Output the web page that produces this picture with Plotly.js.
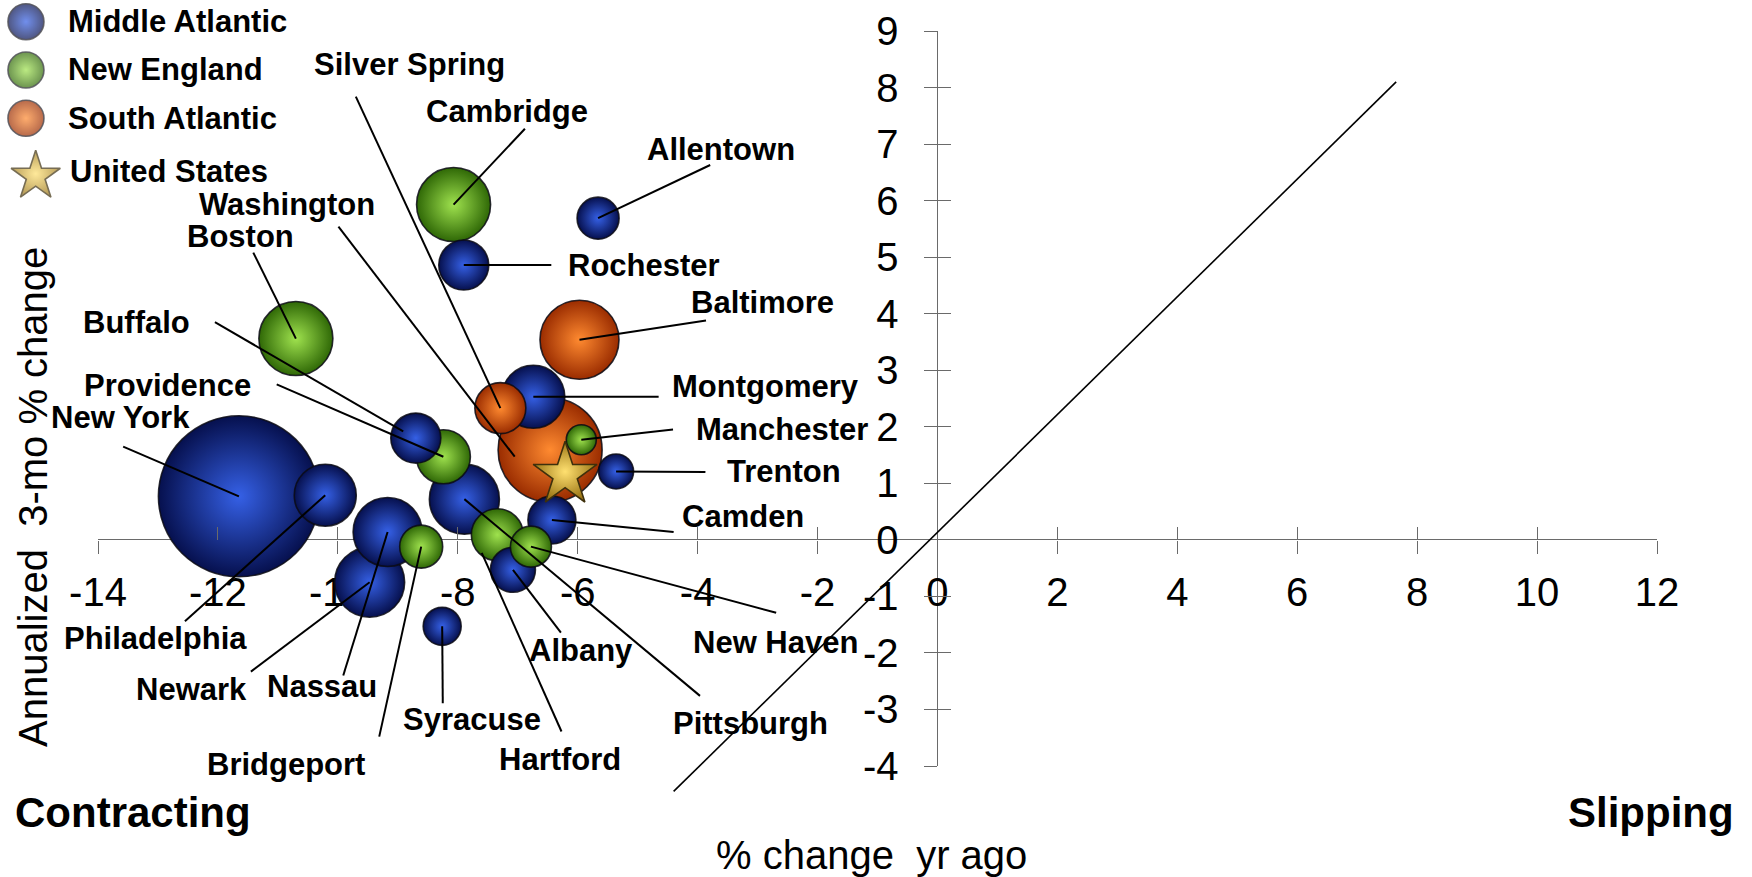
<!DOCTYPE html>
<html>
<head>
<meta charset="utf-8">
<script src="https://cdn.plot.ly/plotly-3.0.1.min.js"></script>
<style>html,body{margin:0;padding:0;background:#fff}#chart{width:1752px;height:877px}</style>
</head>
<body>
<div id="chart"></div>
<script>
// ---------- DATA ----------
const cities = ['New York','Washington','Baltimore','Boston','Cambridge','Pittsburgh','Newark','Nassau',
  'Montgomery','Philadelphia','Providence','Hartford','Silver Spring','Rochester','Buffalo','Camden',
  'Albany','Bridgeport','Allentown','New Haven','Syracuse','Trenton','Manchester'];
const region = ['Middle Atlantic','South Atlantic','South Atlantic','New England','New England','Middle Atlantic',
  'Middle Atlantic','Middle Atlantic','Middle Atlantic','Middle Atlantic','New England','New England',
  'South Atlantic','Middle Atlantic','Middle Atlantic','Middle Atlantic','Middle Atlantic','New England',
  'Middle Atlantic','New England','Middle Atlantic','Middle Atlantic','New England'];
// % change yr ago
const pctYrAgo = [-11.65,-6.46,-5.97,-10.70,-8.07,-7.89,-9.47,-9.17,-6.74,-10.21,-8.24,-7.34,-7.29,-7.90,
  -8.70,-6.43,-7.08,-8.61,-5.66,-6.78,-8.26,-5.36,-5.94];
// Annualized 3-mo % change
const pct3mo = [0.77,1.59,3.54,3.56,5.93,0.72,-0.75,0.14,2.53,0.79,1.47,0.09,2.33,4.86,1.80,0.35,-0.53,
  -0.12,5.69,-0.12,-1.53,1.21,1.77];
// relative bubble size
const bubbleSize = [161,104,79,74,74,70,70,69,63,62,54,52,51,50,50,48,45,43,42,41,38,35,30];
const usName = ['United States'];
const usX = [-6.21];
const usY = [1.15];
const diagX = [-4.4, 7.65];
const diagY = [-4.45, 8.1];
const xTicks = [-14,-12,-10,-8,-6,-4,-2,0,2,4,6,8,10,12];
const yTicks = [-4,-3,-2,-1,0,1,2,3,4,5,6,7,8,9];
const legendNames = ['Middle Atlantic','New England','South Atlantic','United States'];

// ---------- LAYOUT HELPERS (label placement) ----------
const labelPos = {
  'New York':     {lx:-13.63, ly:2.16,  sx:-13.58, sy:1.65},
  'Washington':   {lx:-10.85, ly:5.93,  sx:-9.99,  sy:5.54, ex:-7.05, ey:1.47},
  'Baltimore':    {lx:-2.92,  ly:4.20,  sx:-3.86,  sy:3.88},
  'Boston':       {lx:-11.63, ly:5.37,  sx:-11.41, sy:5.08},
  'Cambridge':    {lx:-7.18,  ly:7.57,  sx:-6.88,  sy:7.27},
  'Pittsburgh':   {lx:-3.12,  ly:-3.24, sx:-3.96,  sy:-2.76},
  'Newark':       {lx:-12.44, ly:-2.64, sx:-11.45, sy:-2.33},
  'Nassau':       {lx:-10.27, ly:-2.59, sx:-9.91,  sy:-2.40},
  'Montgomery':   {lx:-2.87,  ly:2.72,  sx:-4.65,  sy:2.53},
  'Philadelphia': {lx:-13.04, ly:-1.75, sx:-12.55, sy:-1.44},
  'Providence':   {lx:-12.84, ly:2.73,  sx:-11.02, sy:2.75},
  'Hartford':     {lx:-6.29,  ly:-3.89, sx:-6.27,  sy:-3.39, ex:-7.60, ey:-0.23},
  'Silver Spring':{lx:-8.80,  ly:8.41,  sx:-9.70,  sy:7.84},
  'Rochester':    {lx:-4.89,  ly:4.86,  sx:-6.44,  sy:4.86},
  'Buffalo':      {lx:-13.36, ly:3.84,  sx:-12.05, sy:3.85, ex:-8.91, ey:1.92},
  'Camden':       {lx:-3.25,  ly:0.41,  sx:-4.40,  sy:0.14},
  'Albany':       {lx:-5.95,  ly:-1.96, sx:-6.28,  sy:-1.64},
  'Bridgeport':   {lx:-10.87, ly:-3.98, sx:-9.31,  sy:-3.48},
  'Allentown':    {lx:-3.61,  ly:6.91,  sx:-3.79,  sy:6.63},
  'New Haven':    {lx:-2.70,  ly:-1.82, sx:-2.69,  sy:-1.29},
  'Syracuse':     {lx:-7.76,  ly:-3.17, sx:-8.25,  sy:-2.89},
  'Trenton':      {lx:-2.56,  ly:1.21,  sx:-3.87,  sy:1.20},
  'Manchester':   {lx:-2.59,  ly:1.95,  sx:-4.41,  sy:1.95}
};

const palette = {
  'Middle Atlantic': {edge:'#06104e', center:'#3560e6'},
  'New England':     {edge:'#2f6806', center:'#9fe24e'},
  'South Atlantic':  {edge:'#9a2c00', center:'#ff8a30'},
  'United States':   {edge:'#9a7414', center:'#ffe070'}
};
const FONT = 'Liberation Sans, Arial, Helvetica, sans-serif';
const AXC = '#6a6a6a';

// leader lines
const lx = [], ly = [];
cities.forEach((c, i) => {
  const p = labelPos[c];
  lx.push(p.sx, p.ex !== undefined ? p.ex : pctYrAgo[i], null);
  ly.push(p.sy, p.ey !== undefined ? p.ey : pct3mo[i], null);
});

const traces = [
  { type:'scatter', mode:'markers', x:pctYrAgo, y:pct3mo, text:cities, hoverinfo:'text', cliponaxis:false,
    xaxis:'x', yaxis:'y',
    marker:{ size:bubbleSize, sizemode:'diameter', opacity:1,
      color:region.map(r => palette[r].edge),
      gradient:{type:'radial', color:region.map(r => palette[r].center)},
      line:{color:'rgba(10,10,20,0.85)', width:1.6} } },
  { type:'scatter', mode:'markers', x:usX, y:usY, text:usName, hoverinfo:'text', cliponaxis:false,
    xaxis:'x', yaxis:'y',
    marker:{ symbol:'star', size:48, color:palette['United States'].edge,
      gradient:{type:'radial', color:palette['United States'].center},
      line:{color:'#3e300c', width:1.6} } },
  { type:'scatter', mode:'lines', x:lx, y:ly, xaxis:'x2', yaxis:'y2', hoverinfo:'skip',
    line:{color:'#000', width:2}, connectgaps:false },
  { type:'scatter', mode:'lines', x:diagX, y:diagY, xaxis:'x4', yaxis:'y4', hoverinfo:'skip',
    line:{color:'#000', width:1.6} },
  { type:'scatter', mode:'markers', x:[0,0,0,0.03], y:[0,1,2,3.2], xaxis:'x3', yaxis:'y3', hoverinfo:'skip',
    cliponaxis:false,
    marker:{ symbol:['circle','circle','circle','star'], size:[36,36,36,37],
      color:legendNames.map(r => palette[r].edge),
      gradient:{type:'radial', color:legendNames.map(r => palette[r].center)},
      line:{color:['rgba(10,10,20,0.85)','rgba(10,10,20,0.85)','rgba(10,10,20,0.85)','#3e300c'], width:1.6} } }
];

const xDom = [98/1752, 1657/1752];
const yDom = [(877-766)/877, (877-31)/877];
const xPos = (877-539.85)/877;
const yPos = (98 + 14*1559/26)/1752;

const annotations = [];
cities.forEach(c => {
  const p = labelPos[c];
  annotations.push({ xref:'x', yref:'y', x:p.lx, y:p.ly, text:c, showarrow:false,
    xanchor:'center', yanchor:'middle', font:{family:FONT, size:31, color:'#000', weight:700} });
});
legendNames.forEach((n, i) => {
  annotations.push({ xref:'x3', yref:'y3', x:(i === 3 ? 0.13 : 0.122), y:[0,1,2,3.1][i], text:n, showarrow:false,
    xanchor:'left', yanchor:'middle', font:{family:FONT, size:31, color:'#000', weight:700} });
});
annotations.push(
  { xref:'paper', yref:'paper', x:33/1752, y:1-497/877, text:'Annualized  3-mo % change', textangle:-90,
    showarrow:false, xanchor:'center', yanchor:'middle', font:{family:FONT, size:40, color:'#000'} },
  { xref:'paper', yref:'paper', x:871/1752, y:1-855/877, text:'% change  yr ago',
    showarrow:false, xanchor:'center', yanchor:'middle', font:{family:FONT, size:40, color:'#000'} },
  { xref:'paper', yref:'paper', x:13/1752, y:1-812/877, text:'Contracting',
    showarrow:false, xanchor:'left', yanchor:'middle', font:{family:FONT, size:42, color:'#000', weight:700} },
  { xref:'paper', yref:'paper', x:1736/1752, y:1-812/877, text:'Slipping',
    showarrow:false, xanchor:'right', yanchor:'middle', font:{family:FONT, size:42, color:'#000', weight:700} }
);

const tickFont = {family:FONT, size:40, color:'#000'};
const layout = {
  width:1752, height:877, margin:{l:0, r:0, t:0, b:0, pad:0},
  paper_bgcolor:'#fff', plot_bgcolor:'rgba(0,0,0,0)', showlegend:false, hovermode:'closest',
  xaxis:{ domain:xDom, range:[-14,12], anchor:'free', position:xPos, tickmode:'array', tickvals:xTicks,
    ticktext:xTicks.map(String), ticks:'outside', ticklen:13, tickwidth:1.3, tickcolor:AXC,
    showline:false, showgrid:false, zeroline:true, zerolinecolor:AXC, zerolinewidth:1.3,
    tickfont:tickFont, ticklabelstandoff:4, layer:'below traces', fixedrange:true },
  yaxis:{ domain:yDom, range:[-4,9], anchor:'free', position:yPos, tickmode:'array', tickvals:yTicks,
    ticktext:yTicks.map(String), ticks:'outside', ticklen:13, tickwidth:1.3, tickcolor:AXC,
    showline:false, showgrid:false, zeroline:true, zerolinecolor:AXC, zerolinewidth:1.3,
    tickfont:tickFont, ticklabelstandoff:18, layer:'below traces', fixedrange:true },
  xaxis2:{ overlaying:'x', range:[-14,12], anchor:'free', position:xPos, tickmode:'array', tickvals:xTicks,
    ticks:'inside', ticklen:13, tickwidth:1.3, tickcolor:AXC, showticklabels:false,
    showline:false, showgrid:false, zeroline:false, fixedrange:true },
  yaxis2:{ overlaying:'y', range:[-4,9], anchor:'free', position:yPos, tickmode:'array', tickvals:yTicks,
    ticks:'inside', ticklen:13, tickwidth:1.3, tickcolor:AXC, showticklabels:false,
    showline:false, showgrid:false, zeroline:false, fixedrange:true },
  xaxis3:{ domain:[0,0.2], range:[-0.08,1], anchor:'y3', visible:false, fixedrange:true },
  yaxis3:{ domain:[1-200/877,1], range:[-0.449+4.141,-0.449], anchor:'x3', visible:false, fixedrange:true },
  xaxis4:{ domain:xDom, range:[-14,12], anchor:'y4', visible:false, fixedrange:true },
  yaxis4:{ domain:[(877-(766+0.5*735/13))/877, yDom[1]], range:[-4.5,9], anchor:'x4', visible:false, fixedrange:true },
  annotations:annotations
};

Plotly.newPlot('chart', traces, layout, {displayModeBar:false, staticPlot:false});
</script>
</body>
</html>
